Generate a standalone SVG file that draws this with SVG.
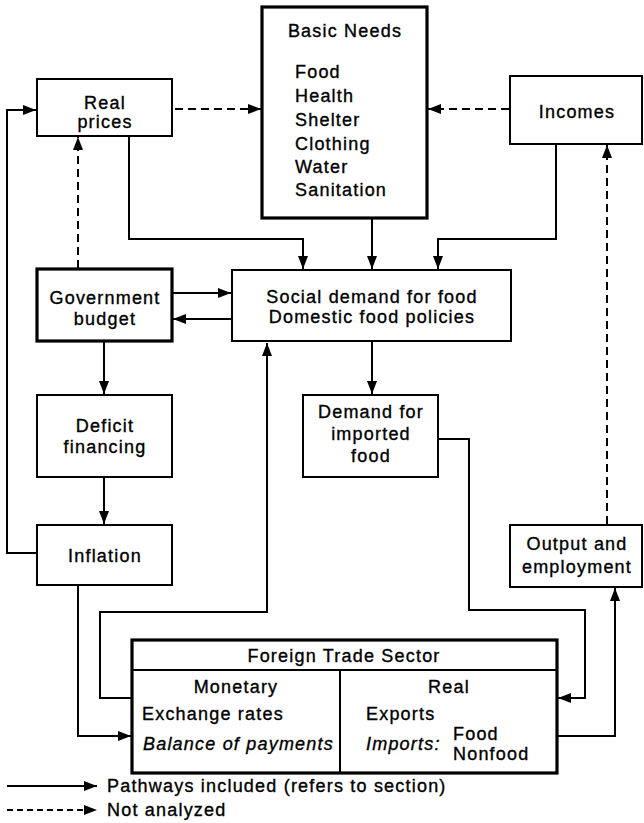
<svg xmlns="http://www.w3.org/2000/svg" width="644" height="823" viewBox="0 0 644 823">
<style>
text{font-family:"Liberation Sans",Arial,sans-serif;font-size:18px;letter-spacing:1.2px;fill:#000;stroke:#000;stroke-width:0.35}
.c{text-anchor:middle}
.i{font-style:italic}
.box{fill:#fff;stroke:#000;stroke-width:2}
.thick{fill:#fff;stroke:#000;stroke-width:3.2}
.ln{fill:none;stroke:#000;stroke-width:2;marker-end:url(#ah)}
.ln0{fill:none;stroke:#000;stroke-width:2}
.dash{fill:none;stroke:#000;stroke-width:2;stroke-dasharray:8 5;marker-end:url(#ah)}
.ldash{fill:none;stroke:#000;stroke-width:2;stroke-dasharray:6 4;marker-end:url(#ah)}
</style>
<defs>
<marker id="ah" markerUnits="userSpaceOnUse" markerWidth="14" markerHeight="10" refX="13" refY="5" orient="auto">
<path d="M0,0 L13,5 L0,10 z" fill="#000"/>
</marker>
</defs>
<rect width="644" height="823" fill="#fff"/>
<g id="connectors">
<path class="dash" d="M175,109 H261"/>
<path class="dash" d="M509,109 H428"/>
<path class="ln" d="M129,136 V239 H303 V269"/>
<path class="ln" d="M372,218 V269"/>
<path class="ln" d="M556,144 V239 H438 V269"/>
<path class="ln" d="M172,293 H231"/>
<path class="ln" d="M232,319 H173"/>
<path class="ln" d="M104,341 V394"/>
<path class="ln" d="M104,477 V524"/>
<path class="dash" d="M78,268 V137"/>
<path class="ln" d="M37,553 H7 V110 H36"/>
<path class="ln" d="M78,585 V736 H131"/>
<path class="ln" d="M132,698 H100 V612 H267 V343"/>
<path class="ln" d="M372,341 V394"/>
<path class="ln" d="M438,439 H469 V610 H585 V698 H558"/>
<path class="ln" d="M557,736 H615 V588"/>
<path class="dash" d="M607,524 V145"/>
</g>
<g id="basic-needs">
<rect class="thick" x="262" y="7" width="165" height="211"/>
<text class="c" x="345" y="37">Basic Needs</text>
<text x="295" y="78">Food</text>
<text x="295" y="102">Health</text>
<text x="295" y="126">Shelter</text>
<text x="295" y="150">Clothing</text>
<text x="295" y="173">Water</text>
<text x="295" y="196">Sanitation</text>
</g>
<g id="real-prices">
<rect class="box" x="37" y="79" width="135" height="57"/>
<text class="c" x="105" y="109">Real</text>
<text class="c" x="105" y="128">prices</text>
</g>
<g id="incomes">
<rect class="box" x="510" y="76" width="132" height="68"/>
<text class="c" x="577" y="118">Incomes</text>
</g>
<g id="government-budget">
<rect class="thick" x="37" y="269" width="135" height="72"/>
<text class="c" x="105" y="304">Government</text>
<text class="c" x="105" y="325">budget</text>
</g>
<g id="social-demand">
<rect class="box" x="232" y="270" width="279" height="71"/>
<text class="c" x="372" y="303">Social demand for food</text>
<text class="c" x="372" y="323">Domestic food policies</text>
</g>
<g id="deficit-financing">
<rect class="box" x="37" y="395" width="135" height="82"/>
<text class="c" x="105" y="432">Deficit</text>
<text class="c" x="105" y="453">financing</text>
</g>
<g id="demand-imported-food">
<rect class="box" x="303" y="395" width="135" height="82"/>
<text class="c" x="371" y="418">Demand for</text>
<text class="c" x="371" y="440">imported</text>
<text class="c" x="371" y="462">food</text>
</g>
<g id="inflation">
<rect class="box" x="37" y="525" width="135" height="60"/>
<text class="c" x="105" y="562">Inflation</text>
</g>
<g id="output-employment">
<rect class="box" x="510" y="525" width="132" height="62"/>
<text class="c" x="577" y="550">Output and</text>
<text class="c" x="577" y="573">employment</text>
</g>
<g id="foreign-trade-sector">
<rect class="thick" x="132" y="640" width="425" height="133"/>
<line class="ln0" x1="132" y1="670" x2="557" y2="670"/>
<line class="ln0" x1="340" y1="670" x2="340" y2="773"/>
<text class="c" x="344" y="662">Foreign Trade Sector</text>
<text class="c" x="236" y="693">Monetary</text>
<text x="142" y="720">Exchange rates</text>
<text class="i" x="143" y="750">Balance of payments</text>
<text class="c" x="449" y="693">Real</text>
<text x="366" y="720">Exports</text>
<text class="i" x="366" y="750">Imports:</text>
<text x="453" y="740">Food</text>
<text x="453" y="760">Nonfood</text>
</g>
<g id="legend">
<path class="ln" d="M7,786 H97"/>
<path class="ldash" d="M7,810 H97"/>
<text x="107" y="792">Pathways included (refers to section)</text>
<text x="107" y="816">Not analyzed</text>
</g>
</svg>
